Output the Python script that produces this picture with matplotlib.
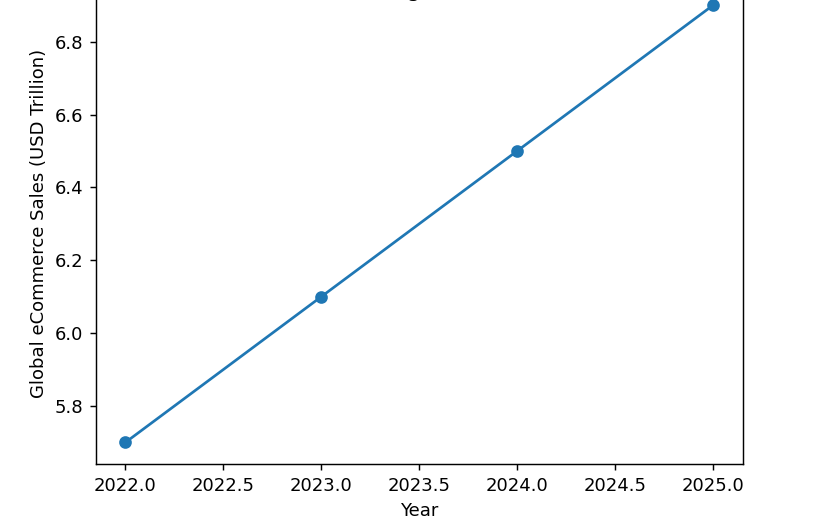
import matplotlib
matplotlib.use("Agg")
import matplotlib.pyplot as plt

years = [2022, 2023, 2024, 2025]
sales = [5.7, 6.1, 6.5, 6.9]

title = "Online Sales Are Rising Worldwide 2022\u20132025"
x_label = "Year"
y_label = "Global eCommerce Sales (USD Trillion)"

DPI = 130
fig = plt.figure(figsize=(819 / DPI, 526 / DPI), dpi=DPI)
# the reference is cropped at the top, so the axes run past the canvas
ax = fig.add_axes([0.1172, 0.1173, 0.7894, 0.9144])
ax.plot(years, sales, marker="o")
ax.set_xlabel(x_label)
ax.set_ylabel(y_label)
ax.set_title(title, y=0.9707, pad=0)

fig.savefig("out.png", dpi=DPI)
plt.close(fig)
